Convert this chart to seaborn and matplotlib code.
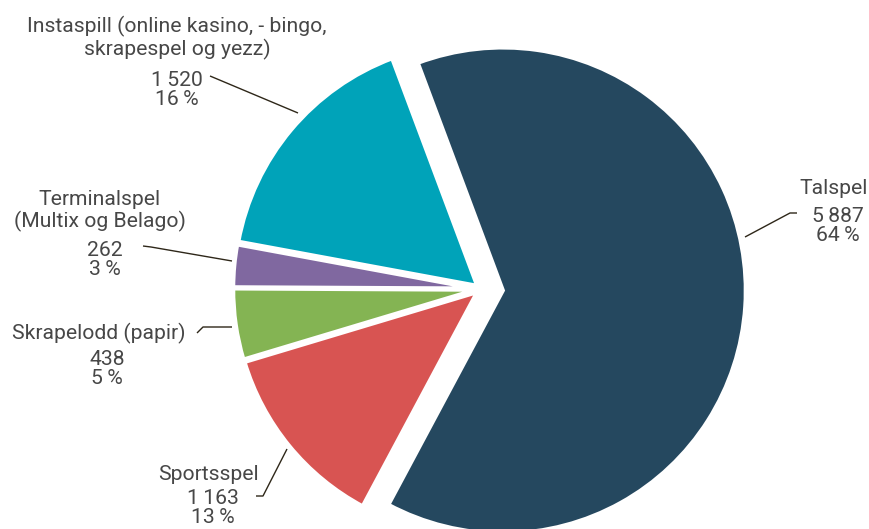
import matplotlib
matplotlib.use('Agg')
import matplotlib.pyplot as plt
import seaborn as sns

# data
categories = ["Talspel", "Sportsspel", "Skrapelodd (papir)",
              "Terminalspel\n(Multix og Belago)",
              "Instaspill (online kasino, - bingo,\nskrapespel og yezz)"]
values = [5887, 1163, 438, 262, 1520]
value_labels = ["5\u2009887", "1\u2009163", "438", "262", "1\u2009520"]
colors = ["#25485f", "#d85452", "#84b453", "#8068a0", "#00a3b9"]
explode = [0.09, 0.02, 0.02, 0.02, 0.02]

total = sum(values)
percents = [f"{round(v / total * 100)}\u2009%" for v in values]

sns.set_theme(style="white")
plt.rcParams['font.family'] = ['Roboto', 'DejaVu Sans']

W, H = 870, 529
R = 243.0            # pie radius in pixels
CX, CY = 481, 289    # pie centre in pixels (from top-left)


def px(x, y):
    """pixel position -> data coords"""
    return (x - CX) / R, (CY - y) / R


fig = plt.figure(figsize=(W / 100, H / 100), dpi=100)
ax = fig.add_axes([0, 0, 1, 1])
ax.pie(values, colors=colors, explode=explode, startangle=110.5,
       counterclock=False, radius=1.0,
       wedgeprops=dict(edgecolor="white", linewidth=3))
ax.set_aspect('auto')
ax.set_xlim(-CX / R, (W - CX) / R)
ax.set_ylim(-(H - CY) / R, CY / R)
ax.axis('off')

txt_color = "#474747"
line_color = "#2e2719"
fs = 15.2

# label layout: (name x, name y, value x, value y) in pixels
label_pos = {
    0: (834, 188, 838, 226),
    1: (208, 475, 213, 508),
    2: (99, 333, 107, 369),
    3: (100, 211, 105, 260),
    4: (177, 38, 177, 90),
}
leaders = {
    0: [(745, 237), (790, 213), (797, 213)],
    1: [(287, 449), (263, 496), (256, 496)],
    2: [(232, 327), (203, 327), (197, 333)],
    3: [(232, 261), (151, 247), (143, 246)],
    4: [(298, 113), (210, 76)],
}

for i, name in enumerate(categories):
    nx, ny, vx, vy = label_pos[i]
    ax.text(*px(nx, ny), name, ha='center', va='center', fontsize=fs,
            color=txt_color, linespacing=1.1)
    ax.text(*px(vx, vy), f"{value_labels[i]}\n{percents[i]}", ha='center',
            va='center', fontsize=fs, color=txt_color, linespacing=1.05)
    pts = [px(x, y) for x, y in leaders[i]]
    ax.plot([p[0] for p in pts], [p[1] for p in pts], color=line_color,
            lw=1.0, solid_capstyle='butt')

fig.savefig("out.png", dpi=100)
plt.close(fig)
